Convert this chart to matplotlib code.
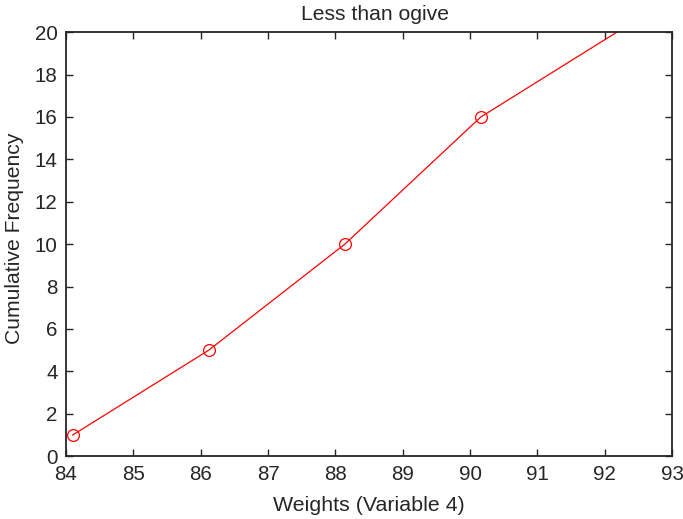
import matplotlib
matplotlib.use("Agg")
import matplotlib.pyplot as plt
import numpy as np

# upper class boundaries and cumulative counts
weights = [84.1, 86.12, 88.14, 90.16, 92.18]
cum_freq = [1, 5, 10, 16, 20]
x_ticks = list(range(84, 94))
y_ticks = list(range(0, 21, 2))

plt.rcParams['font.family'] = ['Liberation Sans', 'DejaVu Sans']

fig = plt.figure(figsize=(6.83, 5.19), dpi=100)
ax = fig.add_axes([0.0966, 0.121, 0.8874, 0.817])

ys = np.array(cum_freq)
shown = [i for i, v in enumerate(ys) if v < 20]
ax.plot(weights, cum_freq, color='red', linewidth=0.9,
        marker='o', markersize=8.5, markerfacecolor='none',
        markeredgewidth=0.9, markevery=shown)

ax.set_xlim(84, 93)
ax.set_ylim(0, 20)
ax.set_xticks(x_ticks)
ax.set_yticks(y_ticks)
ax.tick_params(direction='in', length=5, width=1, top=True, right=True,
               labelsize=14.8, colors='#262626', pad=6)
for s in ax.spines.values():
    s.set_linewidth(1.3)
    s.set_color('#262626')

ax.set_title('Less than ogive', fontsize=15.2, color='#262626', pad=9, x=0.51)
ax.set_xlabel('Weights (Variable 4)', fontsize=15.4, color='#262626', labelpad=9)
ax.set_ylabel('Cumulative Frequency', fontsize=15.2, color='#262626')
ax.yaxis.set_label_coords(-0.07, 0.515)

fig.savefig('out.png', dpi=100)
